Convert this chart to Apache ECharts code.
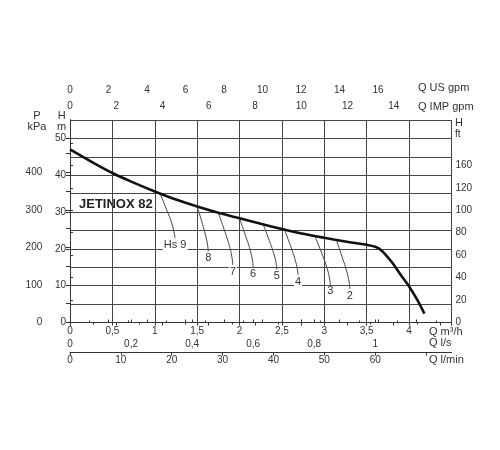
<!DOCTYPE html>
<html><head><meta charset="utf-8">
<script src="https://cdn.jsdelivr.net/npm/echarts@6/dist/echarts.min.js"></script>
<style>html,body{margin:0;padding:0;background:#fff}#c{width:500px;height:450px}</style>
</head><body><div id="c"></div>
<script>
// ---- data ----
const modelName = 'JETINOX 82';
const flowM3h = [0,0.25,0.5,0.75,1,1.25,1.5,1.75,2,2.25,2.5,2.75,3,3.25,3.5,3.6,3.65,3.7,3.8,3.9,4.0,4.1,4.18];
const headM   = [47.0,43.7,40.6,38.0,35.6,33.4,31.5,29.8,28.3,26.8,25.4,24.1,23.0,22.0,21.1,20.6,20.0,19.0,16.3,13.0,9.8,6.0,2.4];
const suctionLabels = ['Hs 9','8','7','6','5','4','3','2'];
const suctionQ = [
  [1.06,1.14,1.20,1.23,1.24],
  [1.50,1.557,1.601,1.625,1.63],
  [1.75,1.825,1.883,1.913,1.92],
  [2.00,2.07,2.125,2.154,2.16],
  [2.28,2.35,2.405,2.434,2.44],
  [2.53,2.60,2.655,2.684,2.69],
  [2.89,2.97,3.03,3.063,3.07],
  [3.14,3.21,3.265,3.294,3.30]
];
const suctionH = [
  [35.2,30.6,27.0,24.2,22.9],
  [31.5,27.2,23.5,20.7,19.2],
  [29.8,24.8,20.6,17.3,15.6],
  [28.3,23.6,19.7,16.6,15.0],
  [26.6,22.3,18.6,15.8,14.3],
  [25.2,20.9,17.1,14.3,12.9],
  [23.4,18.8,14.9,11.8,10.2],
  [22.5,17.8,13.8,10.7,9.1]
];
const ticksM3h = [0,0.5,1,1.5,2,2.5,3,3.5,4];
const ticksUSgpm = [0,2,4,6,8,10,12,14,16];
const ticksIMPgpm = [0,2,4,6,8,10,12,14];
const ticksLs = [0,0.2,0.4,0.6,0.8,1];
const ticksLmin = [0,10,20,30,40,50,60];
const ticksLminMarks = [0,10,20,30,40,50,60,70];
const ticksHm = [0,10,20,30,40,50];
const ticksKPa = [0,100,200,300,400];
const ticksKPaMarks = [0,50,100,150,200,250,300,350,400,450];
const ticksFt = [0,20,40,60,80,100,120,140];
const ticksFtText = ['0','20','40','60','80','100','120','160'];
const ticksFtMarks = [0,20,40,60,80,100,120,140,160];

// ---- chart ----
const FF = '"Liberation Sans",Arial,sans-serif';
const LBL = {fontFamily: FF, fontSize: 10, color: '#333'};
const AXL = {show: true, lineStyle: {color: '#333', width: 1}};
const comma = v => String(v).replace('.', ',');
const Q_MAX = 4.5, H_MAX = 55;

const chart = echarts.init(document.getElementById('c'), null, {renderer: 'canvas'});

const series = [{
  type: 'line', xAxisIndex: 0, yAxisIndex: 0, smooth: 0.35, symbol: 'none',
  lineStyle: {color: '#111', width: 2.6},
  data: flowM3h.map((q, i) => [q, headM[i]]), z: 5
}];
suctionLabels.forEach((name, k) => {
  const qs = suctionQ[k], hs = suctionH[k];
  series.push({
    type: 'line', xAxisIndex: 0, yAxisIndex: 0, smooth: true, symbol: 'none',
    lineStyle: {color: '#444', width: 1}, z: 4,
    endLabel: {show: true, formatter: name, align: 'center', verticalAlign: 'top',
      distance: 0, offset: [0, 1], fontFamily: FF, fontSize: 11, color: '#333',
      backgroundColor: '#fff', padding: [0, 1]},
    data: qs.map((q, i) => [q, hs[i]])
  });
});

chart.setOption({
  animation: false,
  backgroundColor: '#fff',
  grid: {left: 70, right: 48.5, top: 120, bottom: 127.5},
  xAxis: [
    { // m3/h
      type: 'value', position: 'bottom', min: 0, max: Q_MAX, interval: 0.5,
      axisLine: AXL, axisTick: {show: true, length: 3, lineStyle: {color: '#333'}},
      splitLine: {show: true, lineStyle: {color: '#444', width: 1}},
      axisLabel: Object.assign({margin: 4, customValues: ticksM3h, formatter: comma}, LBL)
    },
    { // US gpm
      type: 'value', position: 'top', offset: 21.5, min: 0, max: Q_MAX * 4.40287, interval: 2,
      axisLine: AXL, axisTick: {show: true, length: 3, lineStyle: {color: '#333'}},
      minorTick: {show: true, splitNumber: 2, length: 2, lineStyle: {color: '#333'}},
      splitLine: {show: false},
      axisLabel: Object.assign({margin: 3, customValues: ticksUSgpm}, LBL)
    },
    { // IMP gpm
      type: 'value', position: 'top', offset: 21.5, min: 0, max: Q_MAX * 3.66615, interval: 2,
      axisLine: AXL, axisTick: {show: true, inside: true, length: 3, lineStyle: {color: '#333'}},
      minorTick: {show: true, splitNumber: 2, length: 2, lineStyle: {color: '#333'}},
      splitLine: {show: false},
      axisLabel: Object.assign({inside: true, margin: 3, customValues: ticksIMPgpm}, LBL)
    },
    { // l/s
      type: 'value', position: 'bottom', offset: 30, min: 0, max: Q_MAX / 3.6, interval: 0.2,
      axisLine: AXL, axisTick: {show: true, inside: true, length: 3, customValues: ticksLs, lineStyle: {color: '#333'}},
      splitLine: {show: false},
      axisLabel: Object.assign({inside: true, margin: 3, customValues: ticksLs, formatter: comma}, LBL)
    },
    { // l/min
      type: 'value', position: 'bottom', offset: 30, min: 0, max: Q_MAX * 1000 / 60, interval: 10,
      axisLine: AXL, axisTick: {show: true, length: 3, customValues: ticksLminMarks, lineStyle: {color: '#333'}},
      splitLine: {show: false},
      axisLabel: Object.assign({margin: 3, customValues: ticksLmin}, LBL)
    }
  ],
  yAxis: [
    { // H m
      type: 'value', position: 'left', min: 0, max: H_MAX, interval: 5,
      axisLine: AXL, axisTick: {show: true, length: 4, customValues: ticksHm, lineStyle: {color: '#333'}},
      splitLine: {show: false},
      axisLabel: Object.assign({margin: 4, customValues: ticksHm}, LBL)
    },
    { // P kPa
      type: 'value', position: 'left', offset: 20.7, min: 0, max: H_MAX * 9.81, interval: 50,
      axisLine: AXL, axisTick: {show: true, length: 4, customValues: ticksKPaMarks, lineStyle: {color: '#333'}},
      splitLine: {show: false},
      axisLabel: Object.assign({margin: 7, customValues: ticksKPa}, LBL)
    },
    { // H ft
      type: 'value', position: 'right', min: 0, max: H_MAX / 0.3048, interval: 20,
      axisLine: AXL, axisTick: {show: true, length: 3, customValues: ticksFtMarks, lineStyle: {color: '#333'}},
      splitLine: {show: false},
      axisLabel: Object.assign({margin: 4, customValues: ticksFt,
        formatter: v => ticksFtText[ticksFt.indexOf(Math.round(v))] || ''}, LBL)
    },
    { // horizontal grid every 5 m
      type: 'value', position: 'left', min: 0, max: H_MAX, interval: 5,
      axisLine: {show: false}, axisTick: {show: false}, axisLabel: {show: false},
      splitLine: {show: true, lineStyle: {color: '#444', width: 1}}
    }
  ],
  graphic: [
    {type: 'text', x: 79, y: 204, style: {text: modelName, font: 'bold 13px ' + FF, fill: '#222', verticalAlign: 'middle'}},
    {type: 'text', x: 418, y: 88, style: {text: 'Q US gpm', font: '11px ' + FF, fill: '#333', verticalAlign: 'middle'}},
    {type: 'text', x: 418, y: 106.5, style: {text: 'Q IMP gpm', font: '11px ' + FF, fill: '#333', verticalAlign: 'middle'}},
    {type: 'text', x: 429, y: 331.5, style: {text: 'Q m³/h', font: '11px ' + FF, fill: '#333', verticalAlign: 'middle'}},
    {type: 'text', x: 429, y: 343.3, style: {text: 'Q l/s', font: '11px ' + FF, fill: '#333', verticalAlign: 'middle'}},
    {type: 'text', x: 429, y: 360, style: {text: 'Q l/min', font: '11px ' + FF, fill: '#333', verticalAlign: 'middle'}},
    {type: 'text', x: 37, y: 115.7, style: {text: 'P', font: '11px ' + FF, fill: '#333', align: 'center', verticalAlign: 'middle'}},
    {type: 'text', x: 37, y: 126.7, style: {text: 'kPa', font: '11px ' + FF, fill: '#333', align: 'center', verticalAlign: 'middle'}},
    {type: 'text', x: 61.7, y: 115.7, style: {text: 'H', font: '11px ' + FF, fill: '#333', align: 'center', verticalAlign: 'middle'}},
    {type: 'text', x: 61.7, y: 126.7, style: {text: 'm', font: '11px ' + FF, fill: '#333', align: 'center', verticalAlign: 'middle'}},
    {type: 'text', x: 455, y: 123.3, style: {text: 'H', font: '11px ' + FF, fill: '#333', verticalAlign: 'middle'}},
    {type: 'text', x: 455, y: 134, style: {text: 'ft', font: '10px ' + FF, fill: '#333', verticalAlign: 'middle'}}
  ],
  series: series
});
</script></body></html>
